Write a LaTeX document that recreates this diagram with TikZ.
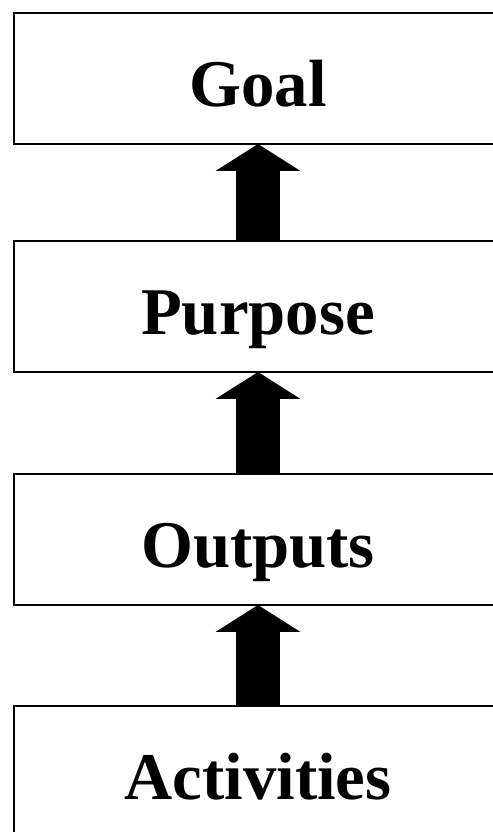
\documentclass[tikz,border=0pt]{standalone}
\usepackage{fontspec}
\setmainfont{Liberation Serif}
\usetikzlibrary{arrows.meta}
\begin{document}
\begin{tikzpicture}[x=0.02cm,y=-0.02cm,
    level/.style={draw,line width=0.05cm,minimum width=9.76cm,minimum height=2.62cm,
      inner sep=0pt,outer sep=0pt,text height=32.3pt,text depth=0pt,
      font=\fontsize{38}{45}\selectfont\bfseries},
    upward/.style={line width=0.9cm,
      -{Triangle[width=1.7cm,length=0.54cm,line width=0pt]}}]
\useasboundingbox (0,0) rectangle (493,832);
% the four levels, top to bottom
\node[level] (goal) at (258,78.5) {Goal};
\node[level] (purpose) at (258,306.5) {Purpose};
\node[level] (outputs) at (258,539.5) {Outputs};
\node[level] (activities) at (258,771.5) {Activities};

% block arrows between the levels
\foreach \from/\to in {activities/outputs,outputs/purpose,purpose/goal}
    \draw[upward] (\from.north) -- (\to.south);
\end{tikzpicture}
\end{document}
